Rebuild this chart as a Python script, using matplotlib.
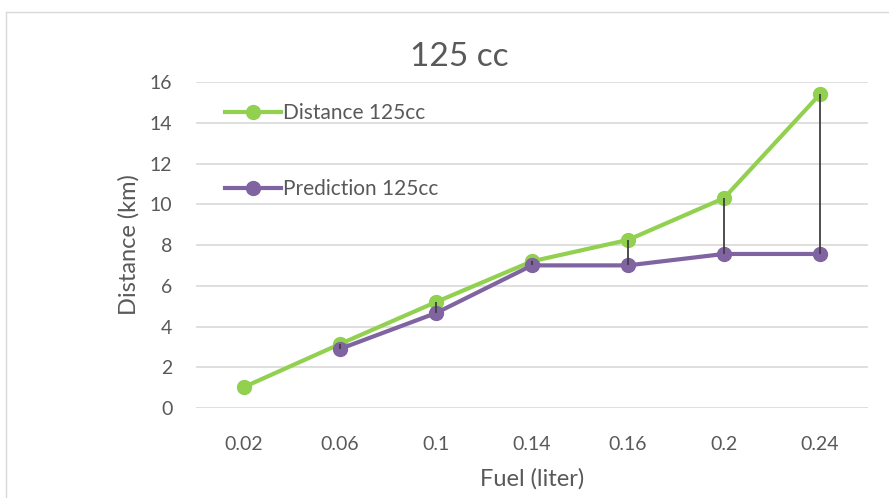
import matplotlib.pyplot as plt
from matplotlib.lines import Line2D

plt.rcParams['font.family'] = ['Lato', 'DejaVu Sans']

# Fuel used vs. distance travelled, measured and predicted
fuel = ['0.02', '0.06', '0.1', '0.14', '0.16', '0.2', '0.24']
distance = [1.03, 3.14, 5.2, 7.2, 8.25, 10.3, 15.4]
prediction = [None, 2.9, 4.66, 7.0, 7.0, 7.56, 7.56]

green = '#92d050'
purple = '#8064a2'
text_col = '#595959'

fig = plt.figure(figsize=(8.89, 4.98), dpi=100)
ax = fig.add_axes([196 / 889, 1 - 408 / 498, 672 / 889, 326 / 498])

x = list(range(len(fuel)))

# high-low lines between the two series
for i, (d, p) in enumerate(zip(distance, prediction)):
    if p is not None:
        ax.vlines(i, min(d, p), max(d, p), color='#404040', lw=1.3, zorder=4)

ax.plot(x, distance, color=green, lw=3, marker='o', ms=10, label='Distance 125cc', zorder=3)
px = [i for i, p in enumerate(prediction) if p is not None]
py = [p for p in prediction if p is not None]
ax.plot(px, py, color=purple, lw=3, marker='o', ms=10, label='Prediction 125cc', zorder=3)

ax.set_xlim(-0.5, len(fuel) - 0.5)
ax.set_ylim(0, 16)
ax.set_yticks(range(0, 17, 2))
ax.set_xticks(x)
ax.set_xticklabels(fuel)
ax.grid(axis='y', color='#d9d9d9', lw=1.2)
ax.set_axisbelow(True)
for s in ax.spines.values():
    s.set_visible(False)
ax.tick_params(length=0, labelsize=14, colors=text_col)
ax.tick_params(axis='y', pad=17)
ax.tick_params(axis='x', pad=20)

ax.set_xlabel('Fuel (liter)', fontsize=17, color=text_col, labelpad=11)
ax.set_ylabel('Distance (km)', fontsize=17, color=text_col, labelpad=7)
fig.text(459 / 889, 1 - 57 / 498, '125 cc', fontsize=24, color=text_col,
         ha='center', va='center')

leg = ax.legend(loc='upper left', bbox_to_anchor=(0.015, 0.993), frameon=False,
                fontsize=15, handlelength=2.7, handletextpad=0.1,
                labelspacing=2.7, labelcolor=text_col)

# outer chart border
fig.add_artist(Line2D([6 / 889, 6 / 889], [0, 1 - 12 / 498], color='#d9d9d9', lw=1))
fig.add_artist(Line2D([6 / 889, 1], [1 - 12 / 498, 1 - 12 / 498], color='#d9d9d9', lw=1))

fig.savefig('out.png', dpi=100)
